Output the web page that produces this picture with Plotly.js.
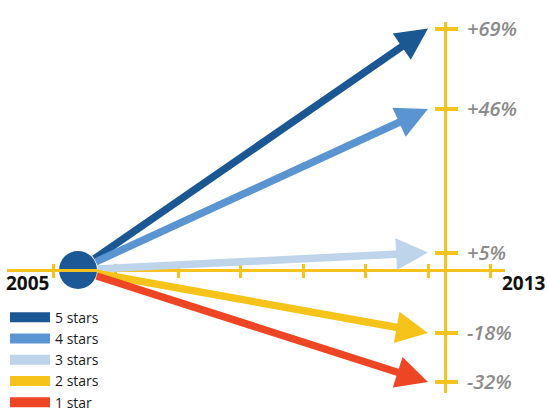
<!DOCTYPE html>
<html>
<head>
<meta charset="utf-8">
<script src="https://cdn.plot.ly/plotly-3.0.1.min.js"></script>
<style>html,body{margin:0;padding:0;background:#fff;}#chart{width:547px;height:412px;}</style>
</head>
<body>
<div id="chart"></div>
<script>
// ---- data ----
const years = [2005, 2013];
const categories = ['5 stars', '4 stars', '3 stars', '2 stars', '1 star'];
const changes = [69, 46, 5, -18, -32];
const tickLabels = ['+69%', '+46%', '+5%', '-18%', '-32%'];
const colors = ['#1b5793', '#5b95d1', '#bdd4ea', '#f6c31b', '#ee4524'];

// ---- styling ----
const gold = '#f6c21e';
const yRange = [-35.14, 70.86];
const xRange = [2003.377, 2014.76];
const zeroPos = (0 - yRange[0]) / (yRange[1] - yRange[0]);
const vAxisPos = 0.8795;

const traces = [];
categories.forEach((c, i) => {
  traces.push({
    x: [null], y: [null], mode: 'lines', name: c,
    line: {color: colors[i], width: 10}, hoverinfo: 'skip'
  });
});
traces.push({
  x: [years[0]], y: [0], mode: 'markers', showlegend: false, hoverinfo: 'skip',
  marker: {size: 38, color: '#1c5895', line: {width: 0}}
});
traces.push({x: [null], y: [null], xaxis: 'x2', yaxis: 'y2', showlegend: false, hoverinfo: 'skip'});

const annotations = changes.map((v, i) => ({
  x: years[1], y: v, ax: years[0], ay: 0,
  xref: 'x', yref: 'y', axref: 'x', ayref: 'y',
  text: '', showarrow: true, arrowhead: 2, arrowsize: 0.85, arrowwidth: 7.5,
  arrowcolor: colors[i], startstandoff: 18, standoff: 0
}));
annotations.push({
  text: String(years[0]), xref: 'paper', yref: 'paper', x: 0.042, y: 0.2965,
  xanchor: 'center', yanchor: 'middle', showarrow: false,
  font: {family: 'Open Sans', size: 19, color: '#111', weight: 700}
});
annotations.push({
  text: String(years[1]), xref: 'paper', yref: 'paper', x: 1.038, y: 0.2965,
  xanchor: 'center', yanchor: 'middle', showarrow: false,
  font: {family: 'Open Sans', size: 19, color: '#111', weight: 700}
});

const xBase = {
  range: xRange, anchor: 'free', position: zeroPos,
  showline: true, linecolor: gold, linewidth: 3,
  ticklen: 6, tickwidth: 3, tickcolor: gold,
  tickmode: 'linear', tick0: years[1], dtick: 10 / 7,
  showticklabels: false, showgrid: false, zeroline: false, fixedrange: true
};
const yBase = {
  range: yRange, anchor: 'free', position: vAxisPos, side: 'right',
  showgrid: false, zeroline: false, fixedrange: true,
  tickmode: 'array', tickvals: changes, ticktext: tickLabels,
  tickwidth: 4, tickcolor: gold
};

const layout = {
  width: 547, height: 412,
  margin: {l: 7, r: 42, t: 22, b: 19, autoexpand: false},
  paper_bgcolor: '#ffffff', plot_bgcolor: '#ffffff',
  showlegend: true,
  legend: {
    xref: 'paper', yref: 'paper', x: -0.004, y: 0.246,
    xanchor: 'left', yanchor: 'top', bgcolor: 'rgba(0,0,0,0)',
    font: {family: 'Open Sans', size: 14, color: '#1a1a1a'},
    tracegroupgap: 0, itemwidth: 40
  },
  xaxis: Object.assign({}, xBase, {ticks: 'outside'}),
  xaxis2: Object.assign({}, xBase, {ticks: 'inside', overlaying: 'x', showline: false}),
  yaxis: Object.assign({}, yBase, {
    ticks: 'outside', ticklen: 11, showline: true, linecolor: gold, linewidth: 3,
    ticklabelstandoff: 5,
    tickfont: {family: 'Open Sans', size: 20, color: '#8b8b8b', style: 'italic', weight: 600}
  }),
  yaxis2: Object.assign({}, yBase, {
    ticks: 'inside', ticklen: 10, overlaying: 'y', showline: false, showticklabels: false
  }),
  annotations: annotations
};

Plotly.newPlot('chart', traces, layout, {staticPlot: true, displayModeBar: false});
</script>
</body>
</html>
